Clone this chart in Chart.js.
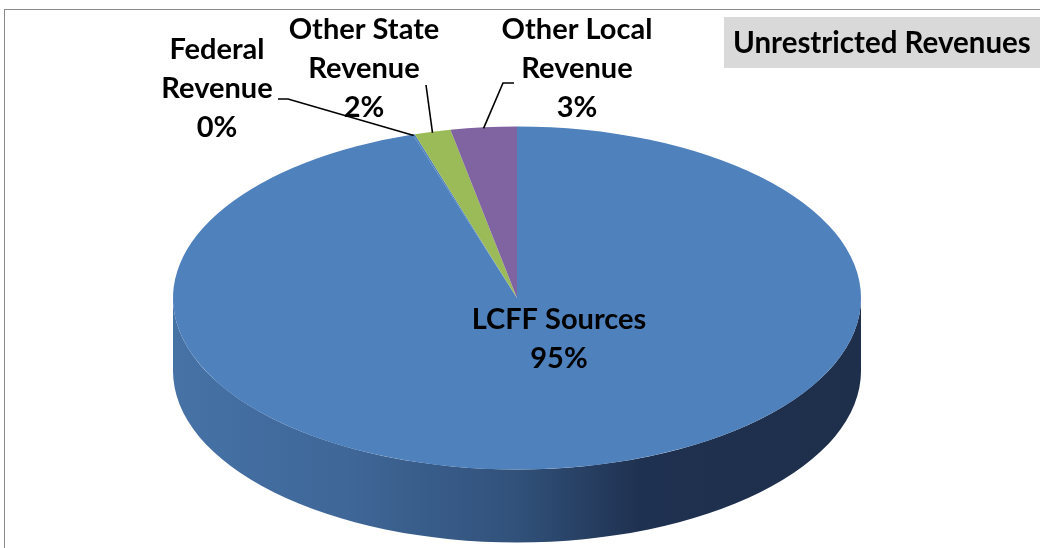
<!DOCTYPE html>
<html>
<head>
<meta charset="utf-8">
<script src="https://cdn.jsdelivr.net/npm/chart.js@4.4.1/dist/chart.umd.min.js"></script>
<style>
  html, body { margin: 0; padding: 0; background: #ffffff; overflow: hidden; }
  #wrap { position: relative; width: 1040px; height: 548px; }
  #frame { position: absolute; left: 4px; top: 9px; width: 1100px; height: 600px; border: 1px solid #8a8a8a; box-sizing: border-box; }
  canvas { position: absolute; left: 0; top: 0; }
</style>
</head>
<body>
<div id="wrap">
  <div id="frame"></div>
  <canvas id="c" width="1040" height="548"></canvas>
</div>
<script>
// ---- data ----
const categories = ["LCFF Sources", "Federal Revenue", "Other State Revenue", "Other Local Revenue"];
const labelLines = [["LCFF Sources"], ["Federal", "Revenue"], ["Other State", "Revenue"], ["Other Local", "Revenue"]];
const values = [95.1, 0.1, 1.7, 3.1];
const sliceColors = ["#4f81bd", "#4f81bd", "#9bbb59", "#8064a2"];
const chartTitle = "Unrestricted Revenues";

// ---- presentation ----
const SX = 1.72, SY = 0.8575, DEPTH = 73;
const FONT = "bold 29px Lato, 'Open Sans', sans-serif";
const LINE_H = 39;
// label anchor (centre of first line) and leader start points (label side)
const labelLayout = [
  { x: 559, y: 320, leader: null },
  { x: 217, y: 50, leader: [[278, 99], [288, 99]] },
  { x: 364, y: 30, leader: [[426, 85]] },
  { x: 577, y: 30, leader: [[514, 83], [503, 83]] }
];

const total = values.reduce((a, b) => a + b, 0);

function rimPoint(el, t) {
  const p = el.getProps(['x', 'y', 'outerRadius'], true);
  return [p.x + p.outerRadius * SX * Math.cos(t), p.y + p.outerRadius * SY * Math.sin(t)];
}

const pie3d = {
  id: 'pie3d',
  beforeDatasetsDraw(chart) {
    const ctx = chart.ctx;
    const meta = chart.getDatasetMeta(0);
    const first = meta.data[0].getProps(['x', 'y', 'outerRadius'], true);
    const cx = first.x, cy = first.y;
    const rx = first.outerRadius * SX, ry = first.outerRadius * SY;
    const grad = ctx.createLinearGradient(cx - rx, 0, cx + rx, 0);
    grad.addColorStop(0, '#4672a6');
    grad.addColorStop(0.25, '#3f6798');
    grad.addColorStop(0.5, '#31517a');
    grad.addColorStop(0.68, '#1f3150');
    grad.addColorStop(1, '#1e2f4b');
    // side walls for the front half
    meta.data.forEach((el, i) => {
      const p = el.getProps(['startAngle', 'endAngle'], true);
      [0, 2 * Math.PI, -2 * Math.PI].forEach(shift => {
        const a = Math.max(p.startAngle - shift, 0);
        const b = Math.min(p.endAngle - shift, Math.PI);
        if (b <= a) return;
        ctx.save();
        ctx.beginPath();
        ctx.ellipse(cx, cy, rx, ry, 0, a, b, false);
        ctx.ellipse(cx, cy + DEPTH, rx, ry, 0, b, a, true);
        ctx.closePath();
        ctx.fillStyle = i === 0 ? grad : sliceColors[i];
        ctx.fill();
        ctx.restore();
      });
    });
    // squash the pie to an ellipse
    ctx.save();
    ctx.translate(cx, cy);
    ctx.scale(SX, SY);
    ctx.translate(-cx, -cy);
  },
  afterDatasetsDraw(chart) {
    chart.ctx.restore();
  },
  afterDraw(chart) {
    const ctx = chart.ctx;
    const meta = chart.getDatasetMeta(0);
    ctx.save();
    // leader lines
    ctx.strokeStyle = '#000';
    ctx.lineWidth = 1.6;
    meta.data.forEach((el, i) => {
      const lay = labelLayout[i];
      if (!lay.leader) return;
      const p = el.getProps(['startAngle', 'endAngle'], true);
      const rim = rimPoint(el, (p.startAngle + p.endAngle) / 2);
      ctx.beginPath();
      ctx.moveTo(lay.leader[0][0], lay.leader[0][1]);
      for (let k = 1; k < lay.leader.length; k++) ctx.lineTo(lay.leader[k][0], lay.leader[k][1]);
      ctx.lineTo(rim[0], rim[1] + 1);
      ctx.stroke();
    });
    // labels
    ctx.fillStyle = '#000';
    ctx.font = FONT;
    ctx.textAlign = 'center';
    ctx.textBaseline = 'middle';
    meta.data.forEach((el, i) => {
      const lay = labelLayout[i];
      const lines = labelLines[i].concat([Math.round(values[i] / total * 100) + '%']);
      lines.forEach((t, k) => ctx.fillText(t, lay.x, lay.y + k * LINE_H));
    });
    // title box
    ctx.fillStyle = '#d9d9d9';
    ctx.fillRect(724, 17, 330, 51);
    ctx.fillStyle = '#000';
    ctx.font = "bold 29.5px Lato, 'Open Sans', sans-serif";
    ctx.textAlign = 'left';
    ctx.fillText(chartTitle, 733, 43);
    ctx.restore();
  }
};

new Chart(document.getElementById('c'), {
  type: 'pie',
  data: {
    labels: categories,
    datasets: [{ data: values, backgroundColor: sliceColors, borderWidth: 0 }]
  },
  options: {
    responsive: false,
    animation: false,
    layout: { padding: { left: 317, right: 323, top: 98, bottom: 50 } },
    plugins: { legend: { display: false }, tooltip: { enabled: false }, title: { display: false } }
  },
  plugins: [pie3d]
});
</script>
</body>
</html>
